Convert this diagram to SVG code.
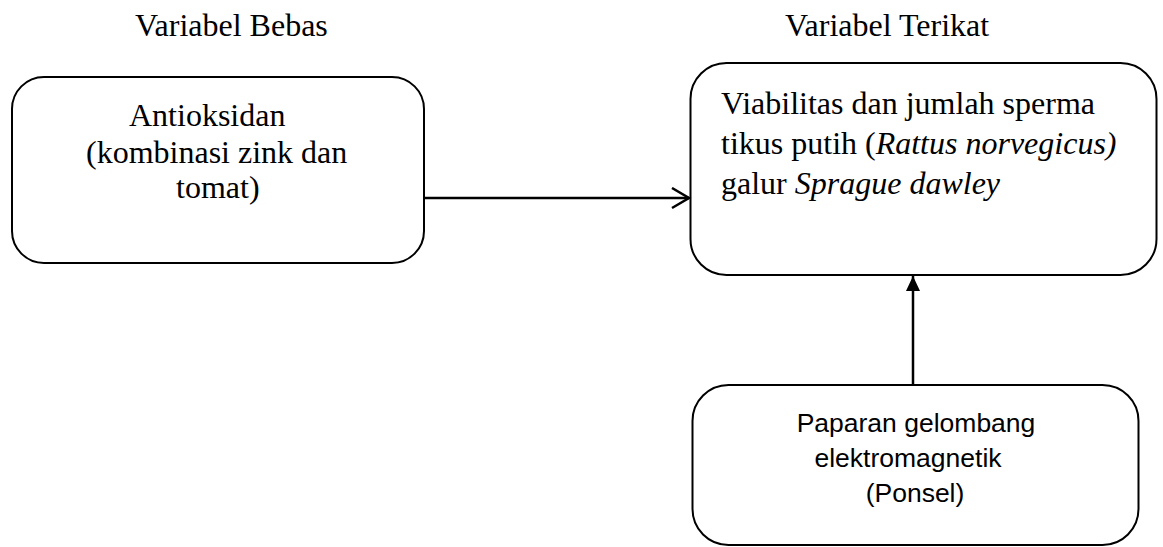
<svg xmlns="http://www.w3.org/2000/svg" width="1163" height="547" viewBox="0 0 1163 547">
<style>
.box{fill:#fff;stroke:#000;stroke-width:2}
.t{font-family:"Liberation Serif","Times New Roman",serif;font-size:32px;fill:#000}
.s{font-family:"Liberation Sans",Arial,sans-serif;font-size:26.5px;fill:#000}
.conn{stroke:#000;stroke-width:2.5;fill:none}
</style>
<defs>
<marker id="open" markerUnits="userSpaceOnUse" markerWidth="24" markerHeight="26" refX="19" refY="11" orient="auto">
<path d="M2,1 L19,11 L2,21" fill="none" stroke="#000" stroke-width="2.5"/>
</marker>
<marker id="solid" markerUnits="userSpaceOnUse" markerWidth="16" markerHeight="16" refX="15" refY="7" orient="auto">
<path d="M0,0 L15,7 L0,14 Z" fill="#000"/>
</marker>
</defs>
<rect width="1163" height="547" fill="#fff"/>
<text class="t" x="135" y="36">Variabel Bebas</text>
<text class="t" x="785" y="36">Variabel Terikat</text>
<g id="node-antioksidan">
<rect class="box" x="12" y="77" width="412" height="186" rx="32" ry="32"/>
<text class="t" x="129" y="126">Antioksidan</text>
<text class="t" x="86" y="163">(kombinasi zink dan</text>
<text class="t" x="176" y="198">tomat)</text>
</g>
<g id="node-viabilitas">
<rect class="box" x="690.5" y="63" width="466" height="212" rx="36" ry="36"/>
<text class="t" x="721" y="114">Viabilitas dan jumlah sperma</text>
<text class="t" x="721" y="154">tikus putih (<tspan font-style="italic">Rattus norvegicus)</tspan></text>
<text class="t" x="721" y="194">galur <tspan font-style="italic">Sprague dawley</tspan></text>
</g>
<g id="node-paparan">
<rect class="box" x="692.5" y="385" width="446" height="160" rx="36" ry="36"/>
<text class="s" x="916" y="432" text-anchor="middle">Paparan gelombang</text>
<text class="s" x="908" y="467" text-anchor="middle">elektromagnetik</text>
<text class="s" x="915" y="502" text-anchor="middle">(Ponsel)</text>
</g>
<g id="connectors">
<line class="conn" x1="425" y1="198" x2="689" y2="198" marker-end="url(#open)"/>
<line class="conn" x1="913" y1="385" x2="913" y2="276" marker-end="url(#solid)"/>
</g>
</svg>
